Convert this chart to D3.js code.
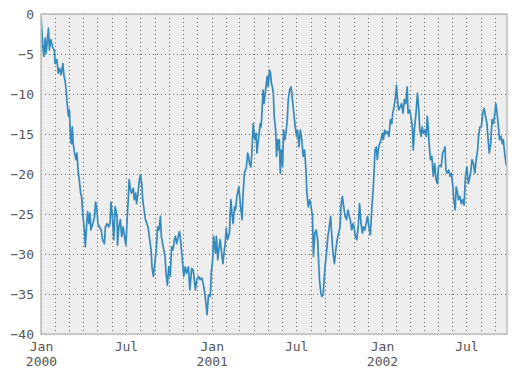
<!DOCTYPE html>
<html>
<head>
<meta charset="utf-8">
<script src="https://cdn.jsdelivr.net/npm/d3@7"></script>
<style>
body { margin: 0; background: #fff; }
text { font-family: "DejaVu Sans Mono", monospace; font-size: 13px; fill: #555; }
</style>
</head>
<body>
<div id="chart"></div>
<script>
// series: day offset from the first date, value
var startDate = new Date(2000, 0, 1);
var lastDay = 999;

var dayOffsets = [
	0, 4, 6, 9, 11, 13, 16, 18, 21, 25, 29, 30, 34, 37, 40, 43, 47, 49, 52, 54, 56, 59, 61, 63, 65, 67, 69, 72, 75, 77,
	80, 82, 85, 87, 90, 93, 95, 98, 100, 103, 105, 107, 111, 115, 117, 120, 122, 125, 129, 132, 136, 138, 142, 145, 148,
	150, 153, 156, 159, 163,
	164, 167, 170, 173, 176, 180, 182, 185, 187, 189, 192, 194, 198, 200, 203, 205, 208, 211, 213, 216, 218, 221, 224,
	227, 230, 233, 236, 238, 241, 244, 247, 250, 253, 256, 258, 262, 266, 268, 271, 274, 277, 280, 283, 286, 288, 291,
	294, 297, 300, 303, 306, 309, 312, 316, 319, 323, 326,
	327, 331, 334, 338, 341, 345, 349, 352, 356, 359, 363, 365, 368, 370, 374, 376, 379, 381, 384, 388, 390, 393, 395,
	397, 400, 404, 407, 410, 412, 415, 417, 420, 424, 426, 428, 431, 433, 436, 438, 440, 443, 445, 447, 450, 452, 455,
	457, 459, 461, 463, 465, 467, 470, 472, 474, 476, 478, 480, 483, 485, 487, 490, 492, 494,
	496, 498, 500, 503, 505, 507, 509, 511, 513, 515, 518, 520, 523, 525, 528, 530, 533, 536, 539, 542, 545, 548, 550,
	553, 556, 559, 562, 565, 568, 570, 573, 576, 579, 582, 584, 587, 590, 593, 595, 597, 600, 602, 605, 607, 609, 612,
	615, 618, 621, 623, 626, 629, 632, 635, 638, 641, 643, 646, 649, 652, 655, 658, 661,
	663, 666, 669, 671, 674, 677, 680, 683, 686, 689, 691, 694, 697, 700, 703, 706, 709, 712, 714, 716, 719, 721, 723,
	726, 729, 732, 734, 737, 740, 743, 746, 749, 752, 754, 757, 760, 762, 765, 767, 770, 773, 776, 779, 782, 785, 787,
	790, 793, 796, 798, 801, 804, 807, 810, 812, 815, 817, 820, 823, 826,
	828, 830, 832, 835, 838, 841, 844, 847, 850, 852, 855, 858, 861, 864, 866, 868, 871, 874, 877, 880, 883, 885, 888,
	890, 893, 895, 898, 901, 904, 907, 910, 913, 916, 918, 921, 924, 927, 930, 933, 936, 938, 941, 944, 947, 950, 953,
	956, 958, 961, 964, 967, 970, 973, 975, 977, 980, 983, 986, 989, 991, 994, 997, 999
];

var values = [
	-0.3, -4.1, -5.3, -3.0, -4.9, -3.7, -1.8, -4.5, -3.2, -4.1, -4.7, -6.2, -5.7, -7.4, -6.8, -7.6, -6.2, -7.6, -8.5, -9.5,
	-11.2, -12.8, -12.0, -15.3, -16.2, -14.1, -16.2, -17.4, -18.2, -17.4, -19.9, -20.7, -22.4, -22.8, -25.3, -27.0, -29.1,
	-26.2, -24.7, -26.2, -24.9, -27.0, -26.2, -25.3, -23.5, -24.5, -26.2, -26.6, -27.0, -28.2, -28.7, -26.6, -26.2, -26.6,
	-26.2, -23.5, -25.3, -28.2, -24.1, -25.3,
	-28.9, -26.6, -25.7, -27.8, -26.6, -28.2, -28.9, -25.3, -23.2, -20.7, -22.0, -22.4, -21.8, -23.2, -22.4, -23.7, -22.4,
	-20.7, -20.1, -21.2, -23.2, -24.5, -25.7, -26.2, -26.8, -28.2, -29.5, -31.7, -32.8, -31.2, -29.5, -26.6, -27.0, -25.3,
	-27.8, -29.1, -30.3, -32.4, -33.9, -31.6, -32.8, -29.1, -29.5, -28.2, -27.8, -28.7, -27.8, -27.2, -28.7, -30.7, -32.8,
	-31.6, -32.4, -31.6, -34.5, -31.8, -32.0,
	-32.4, -34.5, -33.2, -32.8, -33.2, -33.0, -34.1, -35.3, -37.6, -35.1, -35.3, -32.4, -30.7, -27.8, -29.9, -27.8, -30.7,
	-29.5, -28.2, -30.3, -31.2, -29.5, -28.7, -26.8, -28.2, -27.4, -23.2, -25.3, -26.2, -24.1, -24.5, -22.8, -21.6, -22.8,
	-24.1, -25.7, -22.8, -19.9, -19.5, -19.3, -17.4, -17.8, -18.7, -19.1, -17.4, -13.7, -15.3, -15.7, -14.9, -17.4, -16.2,
	-15.3, -13.7, -14.1, -12.0, -9.5, -11.2, -10.3, -8.7, -7.8, -9.1, -7.0, -7.4, -8.7,
	-9.1, -9.9, -12.8, -14.5, -17.8, -15.7, -17.0, -15.7, -19.9, -17.0, -19.1, -14.5, -15.7, -14.9, -13.2, -10.7, -9.5,
	-9.1, -10.7, -12.4, -14.1, -15.3, -14.5, -16.6, -14.5, -15.7, -17.8, -17.0, -19.5, -22.4, -24.1, -23.2, -24.1, -25.3,
	-30.3, -27.4, -27.0, -28.2, -30.7, -33.2, -34.9, -35.3, -35.1, -33.2, -31.6, -29.9, -27.8, -26.6, -25.3, -27.4, -29.9,
	-31.2, -29.5, -28.2, -27.4, -26.6, -24.1, -22.8, -24.1, -25.3, -25.7, -24.5, -25.3,
	-25.7, -27.0, -26.2, -26.6, -27.8, -28.2, -26.6, -23.7, -26.2, -27.4, -26.6, -27.0, -26.2, -25.3, -26.6, -27.6, -24.5,
	-22.0, -19.9, -17.0, -16.6, -18.2, -17.0, -16.2, -15.7, -14.9, -15.7, -14.5, -14.9, -14.7, -15.3, -13.2, -13.7, -12.4,
	-11.6, -10.3, -8.9, -11.2, -12.0, -11.6, -11.2, -12.4, -10.7, -11.2, -9.1, -12.4, -12.0, -12.8, -14.1, -17.0, -14.1,
	-12.4, -9.9, -12.0, -14.5, -15.3, -14.1, -14.9, -14.5, -15.3,
	-12.8, -14.1, -16.2, -18.2, -17.8, -20.3, -18.7, -20.7, -21.2, -19.1, -18.9, -19.1, -17.4, -17.0, -16.6, -19.5, -19.9,
	-19.5, -20.3, -19.9, -21.6, -23.2, -24.5, -21.6, -22.4, -23.2, -22.8, -23.7, -23.2, -23.9, -20.3, -19.1, -21.2, -20.7,
	-19.9, -18.2, -18.7, -19.9, -18.2, -17.0, -15.3, -14.1, -14.1, -12.4, -11.8, -12.8, -13.7, -15.3, -17.4, -16.2, -13.2,
	-13.7, -12.4, -11.2, -12.0, -13.7, -15.7, -15.3, -16.2, -15.7, -17.4, -18.7, -19.1
];

var yTicks = [0, -5, -10, -15, -20, -25, -30, -35, -40];

var width = 516, height = 376;
var margin = {top: 14, right: 9, bottom: 42, left: 41};

var svg = d3.select('#chart').append('svg')
	.attr('width', width).attr('height', height);

var x = d3.scaleTime()
	.domain([startDate, d3.timeDay.offset(startDate, lastDay)])
	.range([margin.left, width - margin.right]);

var y = d3.scaleLinear()
	.domain([-40, 0])
	.range([height - margin.bottom, margin.top]);

var data = dayOffsets.map(function (d, i) {
	return {date: d3.timeDay.offset(startDate, d), value: values[i]};
});

// plot background
svg.append('rect')
	.attr('x', margin.left).attr('y', margin.top)
	.attr('width', width - margin.left - margin.right)
	.attr('height', height - margin.top - margin.bottom)
	.attr('fill', '#eeeeee');

// grid: every month and every 5 units
var months = d3.timeMonth.range(startDate, x.domain()[1]);
svg.append('g').selectAll('line')
	.data(months)
	.enter().append('line')
	.attr('x1', function (d) { return Math.round(x(d)) + 0.5; })
	.attr('x2', function (d) { return Math.round(x(d)) + 0.5; })
	.attr('y1', margin.top).attr('y2', height - margin.bottom)
	.attr('stroke', '#555').attr('stroke-width', 0.9)
	.attr('stroke-dasharray', '1,3');

svg.append('g').selectAll('line')
	.data(yTicks)
	.enter().append('line')
	.attr('x1', margin.left).attr('x2', width - margin.right)
	.attr('y1', function (d) { return Math.round(y(d)) + 0.5; })
	.attr('y2', function (d) { return Math.round(y(d)) + 0.5; })
	.attr('stroke', '#555').attr('stroke-width', 0.9)
	.attr('stroke-dasharray', '1,3');

svg.append('clipPath').attr('id', 'clip')
	.append('rect')
	.attr('x', margin.left).attr('y', margin.top)
	.attr('width', width - margin.left - margin.right)
	.attr('height', height - margin.top - margin.bottom);

var line = d3.line()
	.x(function (d) { return x(d.date); })
	.y(function (d) { return y(d.value); });

svg.append('path')
	.datum(data)
	.attr('clip-path', 'url(#clip)')
	.attr('d', line)
	.attr('fill', 'none')
	.attr('stroke', '#348abd')
	.attr('stroke-width', 1.7)
	.attr('stroke-linejoin', 'round');

// frame
svg.append('rect')
	.attr('x', margin.left).attr('y', margin.top)
	.attr('width', width - margin.left - margin.right)
	.attr('height', height - margin.top - margin.bottom)
	.attr('fill', 'none')
	.attr('stroke', '#bcbcbc').attr('stroke-width', 1.5);

// y axis labels
var yAxis = svg.append('g')
	.attr('transform', 'translate(' + margin.left + ',0)')
	.call(d3.axisLeft(y).tickValues(yTicks).tickSize(0).tickPadding(7).tickFormat(d3.format('d')));
yAxis.select('.domain').remove();

// x axis labels: Jan with the year below, Jul alone
var xTicks = months.filter(function (d) { return d.getMonth() === 0 || d.getMonth() === 6; });
var xAxis = svg.append('g')
	.attr('transform', 'translate(0,' + (height - margin.bottom) + ')')
	.call(d3.axisBottom(x).tickValues(xTicks).tickSize(0).tickPadding(8).tickFormat(d3.timeFormat('%b')));
xAxis.select('.domain').remove();
xAxis.selectAll('.tick')
	.filter(function (d) { return d.getMonth() === 0; })
	.append('text')
	.attr('y', 23)
	.attr('dy', '0.71em')
	.text(d3.timeFormat('%Y'));

svg.selectAll('g').attr('font-family', null).attr('font-size', null);
svg.selectAll('.tick text').attr('fill', '#555');
</script>
</body>
</html>
